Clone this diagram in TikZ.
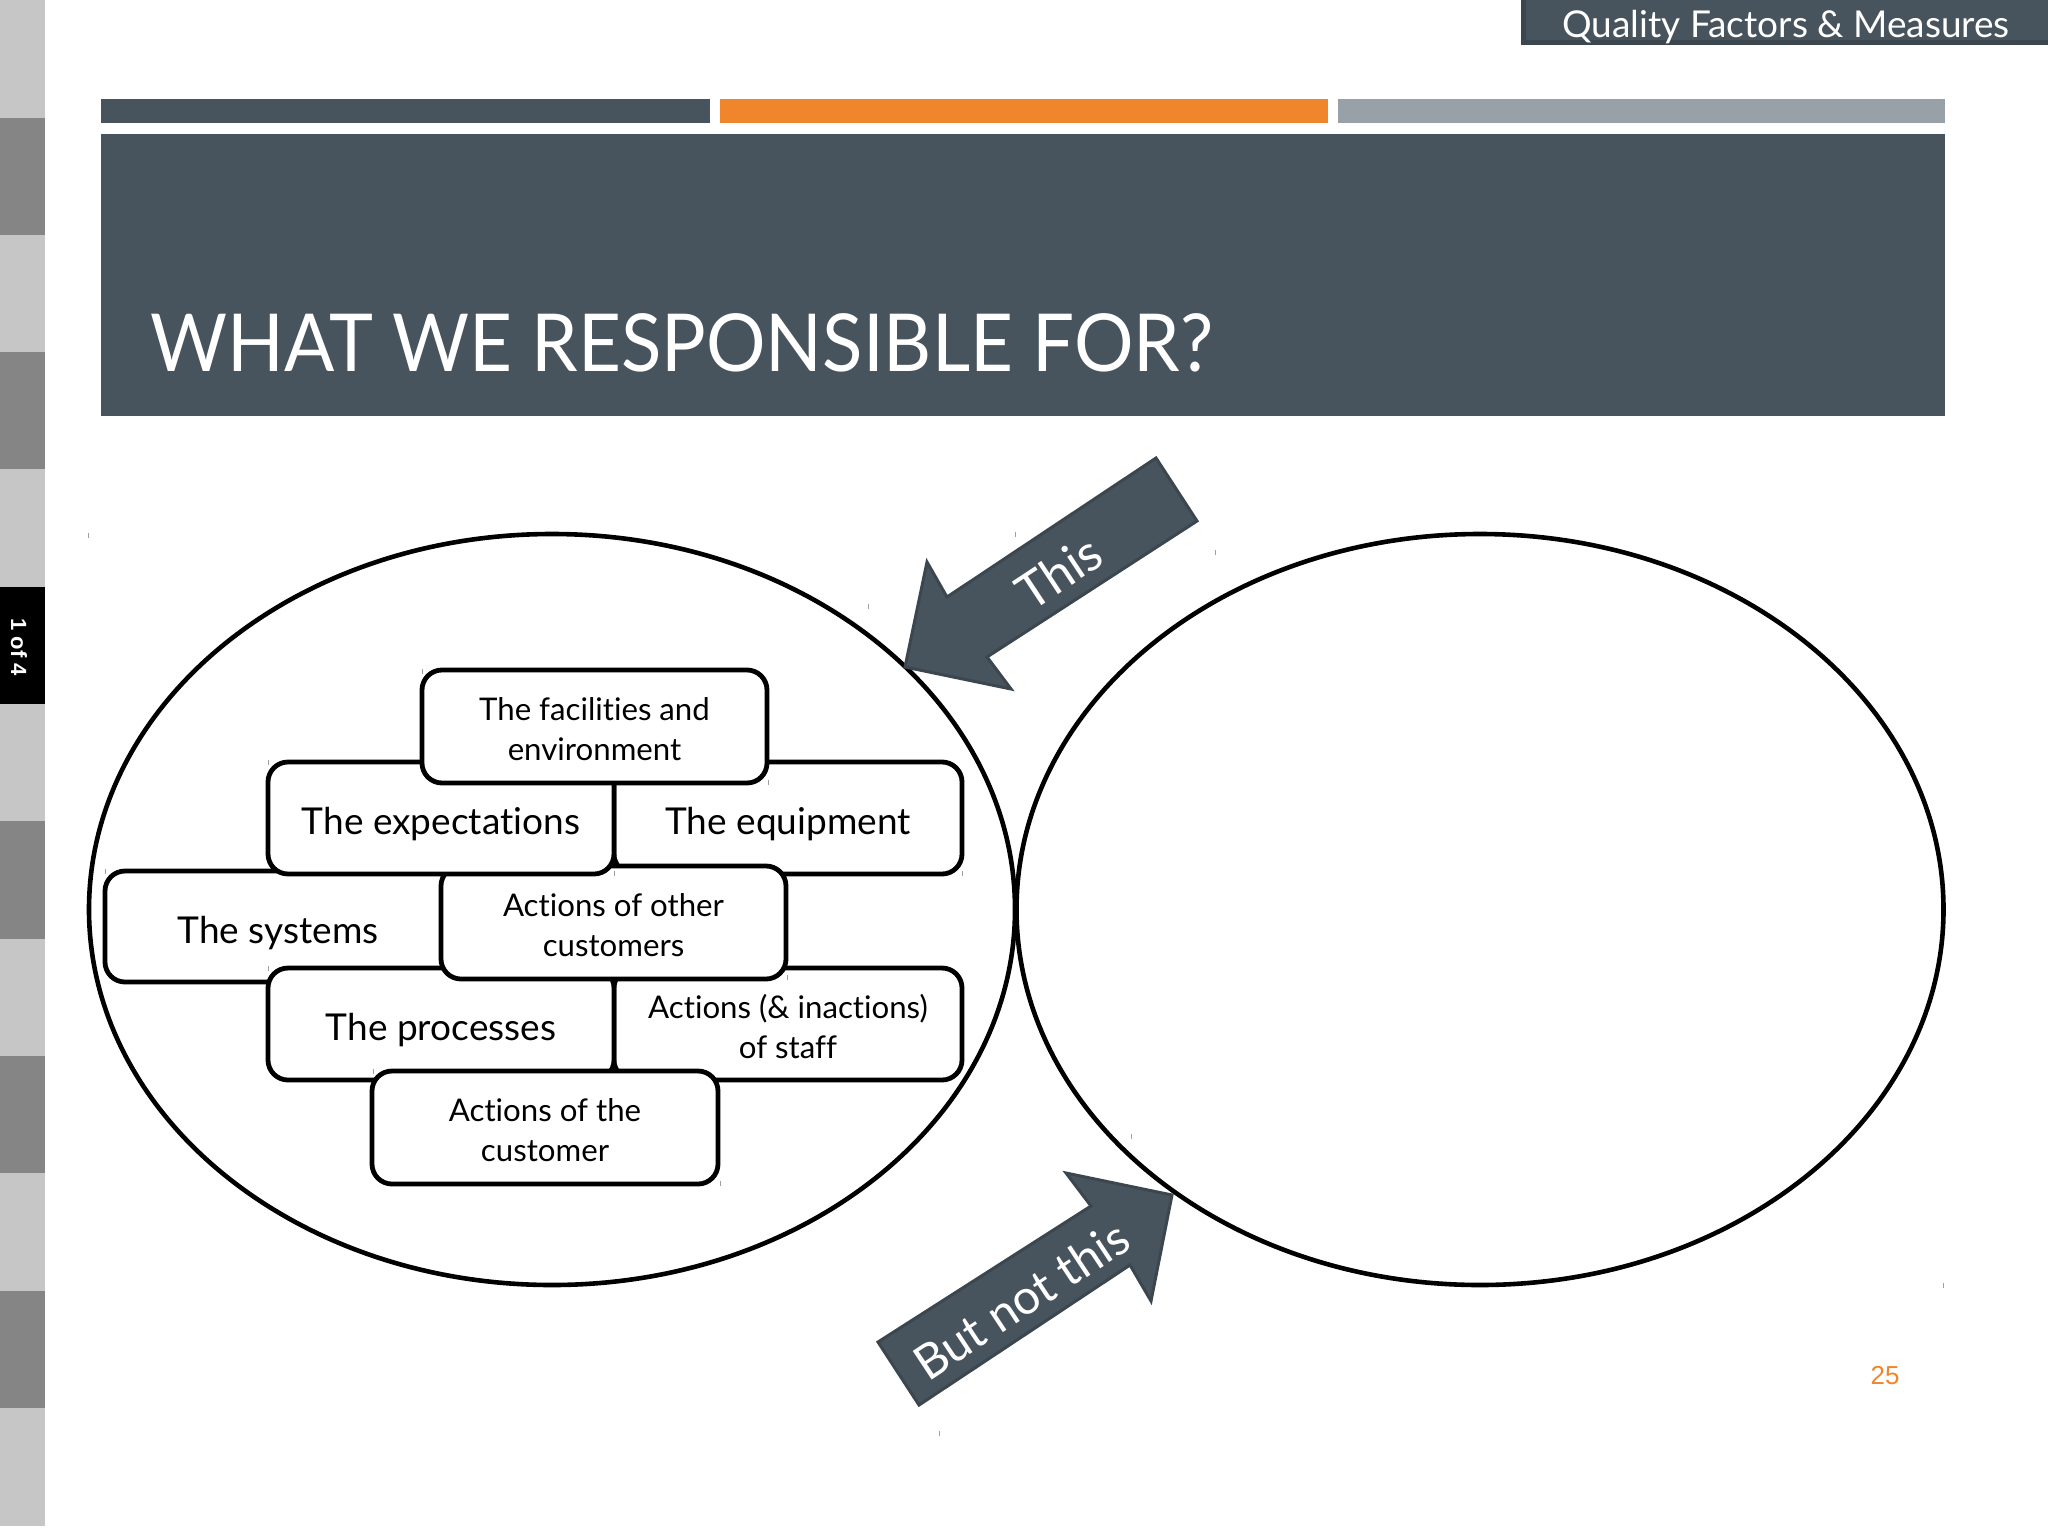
\documentclass[tikz,border=0pt]{standalone}
\usetikzlibrary{shapes.geometric}
\usepackage{graphicx}
\usepackage{fontspec}
\setmainfont{Lato}[Ligatures=NoCommon]
\newfontfamily\arialf{Liberation Sans}
\definecolor{slate}{HTML}{48545D}
\definecolor{slateedge}{HTML}{3B464E}
\definecolor{accentor}{HTML}{F0862C}
\definecolor{barg}{HTML}{98A1A8}
\definecolor{stripl}{HTML}{C6C6C6}
\definecolor{stripd}{HTML}{858585}
\definecolor{ticks}{HTML}{A0A0A0}
\newcommand{\fs}[2]{\fontsize{#1}{#2}\selectfont}
\tikzset{
  brick/.style={draw=black,line width=2.4pt,fill=white,rounded corners=10pt,inner sep=0pt,align=center,text=black},
  smallbrick/.style={brick,font=\fs{15.6}{20},text height=34pt,text depth=0pt},
  bigbrick/.style={brick,font=\fs{18.5}{23},text height=16.7pt,text depth=0pt},
  oval/.style={draw=black,line width=2.3pt,fill=white},
  arrowbody/.style={fill=slate,draw=slateedge,line width=1.5pt,line join=miter},
  arrowtext/.style={text=white,inner sep=0pt},
}
\begin{document}
\begin{tikzpicture}[x=0.5pt,y=-0.5pt]
\useasboundingbox (0,0) rectangle (2048,1536);
\fill[white] (0,0) rectangle (2048,1536);
% side strip
\foreach \a/\b/\c in {0/117.5/stripl,117.5/235/stripd,235/352/stripl,352/469/stripd,469/587/stripl,704/821/stripl,821/939/stripd,939/1056/stripl,1056/1173/stripd,1173/1291/stripl,1291/1408/stripd,1408/1526/stripl}
  \fill[\c] (0,\a) rectangle (45,\b);
\fill[black] (0,587) rectangle (45,704);
\node[rotate=-90,text=white,font=\arialf\bfseries\fs{11}{13},inner sep=0pt] (pager) at (19,647) {1 of 4};
% top tag
\fill[slate,draw=slateedge,line width=2.5pt] (1523.5,-4) rectangle (2052,42.5);
\node[text=white,font=\fs{18.5}{22},inner sep=0pt] (tag) at (1786,27) {Quality Factors \& Measures};
% bars
\fill[slate] (100.5,99) rectangle (710,123);
\fill[accentor] (720,99) rectangle (1328,123);
\fill[barg] (1338,99) rectangle (1945,123);
\fill[slate] (100.5,134) rectangle (1945,416);
\node[anchor=base west,text=white,font=\fs{40}{44},inner sep=0pt] (title) at (150,371) {\scalebox{0.93}[1]{WHAT WE RESPONSIBLE FOR?}};
% ellipses
\node[oval,ellipse,minimum width=463pt,minimum height=375.5pt,inner sep=0pt] (leftoval) at (552,909.5) {};
\node[oval,ellipse,minimum width=463.5pt,minimum height=375.5pt,inner sep=0pt] (rightoval) at (1480,909.5) {};
% bricks
\node[bigbrick,minimum width=173pt,minimum height=55.5pt] (systems) at (278,926.5) {The systems};
\node[bigbrick,minimum width=174pt,minimum height=56pt] (equipment) at (788,818) {The equipment};
\node[smallbrick,minimum width=174pt,minimum height=56pt] (staff) at (788,1024) {Actions (\& inactions)\\of staff};
\node[bigbrick,minimum width=173pt,minimum height=56pt] (processes) at (441,1024) {The processes};
\node[smallbrick,minimum width=172.5pt,minimum height=56.5pt] (others) at (613.5,922.5) {Actions of other\\customers};
\node[bigbrick,minimum width=173pt,minimum height=56pt] (expect) at (441,818) {The expectations};
\node[smallbrick,minimum width=172.5pt,minimum height=56.5pt] (facil) at (594.5,726.5) {The facilities and\\environment};
\node[smallbrick,minimum width=173pt,minimum height=56.5pt] (cust) at (545,1127.5) {Actions of the\\customer};
% arrows
\draw[arrowbody] (1156,458) -- (1197,521) -- (987,657) -- (1011,689) -- (905,667) -- (927,562) -- (947,597) -- cycle;
\node[arrowtext,rotate=33.5,font=\fs{25}{28}] (thislab) at (1059,572) {This};
\draw[arrowbody] (878,1342) -- (919,1405) -- (1130,1265) -- (1151,1301) -- (1172,1195) -- (1066,1173) -- (1091,1206) -- cycle;
\node[arrowtext,rotate=33.5,font=\fs{24}{28}] (butlab) at (1021,1300) {But not this};
% page number
\node[text=accentor,font=\arialf\fs{13}{15},inner sep=0pt] (pageno) at (1885,1376) {25};
% stray handle ticks
\foreach \p/\q in {88/535,1015/534,1215/552,868/606,939/1433,1131/1136,1943/1285,422/671,268/762,105/871,268/968,373/1071,768/782,614/873,787/977,962/873,720/1183}
  \draw[ticks,line width=0.5pt] (\p,\q-2.5) -- (\p,\q+2.5);
\end{tikzpicture}
\end{document}
